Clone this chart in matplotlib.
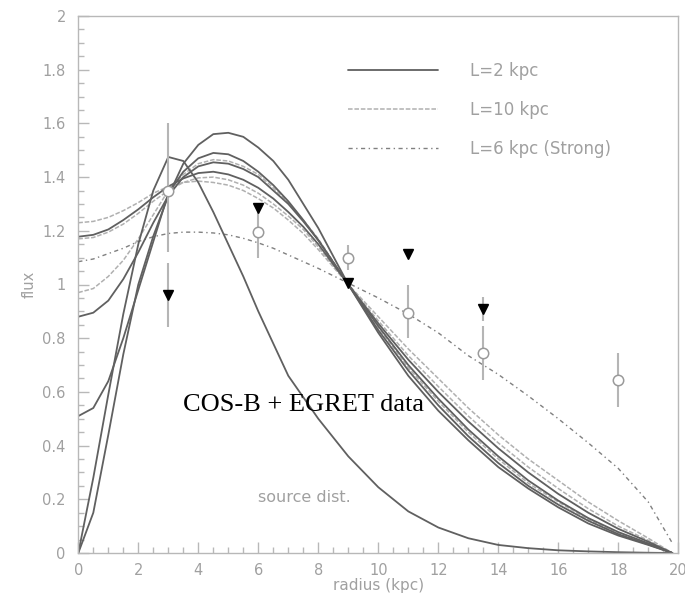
import matplotlib
matplotlib.use("Agg")
import matplotlib.pyplot as plt
from matplotlib.lines import Line2D
from matplotlib.ticker import MultipleLocator

# ---------------- data ----------------
radius = [0, 0.5, 1, 1.5, 2, 2.5, 3, 3.5, 4, 4.5, 5, 5.5, 6, 6.5, 7, 7.5, 8,
          9, 10, 11, 12, 13, 14, 15, 16, 17, 18, 19, 19.8]

source_dist = [0.0, 0.28, 0.59, 0.89, 1.15, 1.35, 1.475, 1.46, 1.38, 1.27, 1.15, 1.03, 0.90, 0.78, 0.66, 0.58, 0.50,
               0.36, 0.245, 0.155, 0.095, 0.055, 0.03, 0.018, 0.01, 0.006, 0.003, 0.001, 0.0]

# L=2 kpc (solid)
l2_a = [0.0, 0.15, 0.44, 0.74, 1.00, 1.18, 1.33, 1.45, 1.52, 1.56, 1.565, 1.55, 1.51, 1.46, 1.39, 1.30, 1.21,
        1.0, 0.82, 0.66, 0.53, 0.42, 0.32, 0.24, 0.17, 0.11, 0.065, 0.03, 0.0]
l2_b = [0.51, 0.54, 0.64, 0.80, 0.98, 1.16, 1.34, 1.42, 1.47, 1.49, 1.485, 1.46, 1.42, 1.37, 1.31, 1.24, 1.165,
        1.0, 0.83, 0.68, 0.55, 0.435, 0.335, 0.25, 0.18, 0.12, 0.07, 0.032, 0.0]
l2_c = [0.88, 0.895, 0.94, 1.02, 1.12, 1.23, 1.33, 1.40, 1.44, 1.455, 1.45, 1.43, 1.40, 1.35, 1.30, 1.235, 1.165,
        1.0, 0.845, 0.70, 0.575, 0.46, 0.36, 0.27, 0.195, 0.13, 0.078, 0.036, 0.0]
l2_d = [1.178, 1.185, 1.205, 1.24, 1.28, 1.325, 1.365, 1.395, 1.415, 1.42, 1.41, 1.39, 1.36, 1.32, 1.27, 1.215, 1.15,
        1.0, 0.855, 0.72, 0.60, 0.49, 0.39, 0.30, 0.22, 0.15, 0.09, 0.042, 0.0]

# L=10 kpc (dashed)
l10_a = [0.97, 0.985, 1.03, 1.09, 1.17, 1.26, 1.35, 1.41, 1.45, 1.465, 1.46, 1.44, 1.41, 1.36, 1.305, 1.24, 1.17,
         1.0, 0.84, 0.69, 0.565, 0.45, 0.35, 0.26, 0.19, 0.125, 0.075, 0.034, 0.0]
l10_b = [1.17, 1.175, 1.195, 1.225, 1.265, 1.31, 1.35, 1.38, 1.397, 1.40, 1.39, 1.37, 1.34, 1.30, 1.255, 1.205, 1.14,
         1.0, 0.865, 0.735, 0.62, 0.51, 0.41, 0.32, 0.24, 0.165, 0.10, 0.047, 0.0]
l10_c = [1.23, 1.235, 1.25, 1.275, 1.305, 1.34, 1.365, 1.38, 1.385, 1.38, 1.37, 1.35, 1.32, 1.285, 1.24, 1.19, 1.13,
         1.0, 0.88, 0.76, 0.65, 0.54, 0.44, 0.35, 0.27, 0.19, 0.12, 0.055, 0.0]

# L=6 kpc (Strong) (dash-dot)
l6_strong = [1.085, 1.095, 1.115, 1.135, 1.16, 1.178, 1.19, 1.195, 1.195, 1.192, 1.185, 1.172, 1.155, 1.135, 1.11, 1.085, 1.06,
             1.005, 0.95, 0.89, 0.82, 0.735, 0.665, 0.585, 0.50, 0.41, 0.315, 0.19, 0.037]

# data points
circ_r = [3, 6, 9, 11, 13.5, 18]
circ_flux = [1.35, 1.195, 1.10, 0.894, 0.745, 0.644]
circ_err_lo = [0.23, 0.095, 0.046, 0.094, 0.10, 0.10]
circ_err_hi = [0.25, 0.085, 0.047, 0.106, 0.10, 0.10]

tri_r = [3, 6, 9, 11, 13.5]
tri_flux = [0.96, 1.285, 1.005, 1.113, 0.909]
tri_err = [0.12, 0.0, 0.0, 0.0, 0.045]

legend_labels = ["L=2 kpc", "L=10 kpc", "L=6 kpc (Strong)"]
x_ticks = [0, 2, 4, 6, 8, 10, 12, 14, 16, 18, 20]
y_ticks = [0, 0.2, 0.4, 0.6, 0.8, 1, 1.2, 1.4, 1.6, 1.8, 2]
y_tick_labels = ["0", "0.2", "0.4", "0.6", "0.8", "1", "1.2", "1.4", "1.6", "1.8", "2"]

# ---------------- styling ----------------
SOLID = dict(color="#606060", lw=1.3, solid_capstyle="round", solid_joinstyle="round")
DASHED = dict(color="#b0b0b0", lw=1.1, dashes=(3.0, 1.2))
DASHDOT = dict(color="#808080", lw=1.0, dashes=(3.0, 2.5, 1.0, 2.5))
GRAY_TXT = "#a0a0a0"
FRAME = "#b8b8b8"

fig = plt.figure(figsize=(6.85, 5.97), dpi=100)
ax = fig.add_axes([78.3 / 685, 1 - 553 / 597, 600 / 685, 537 / 597])

for vals in (l10_a, l10_b, l10_c):
    ax.plot(radius, vals, **DASHED)
ax.plot(radius, l6_strong, **DASHDOT)
for vals in (l2_a, l2_b, l2_c, l2_d, source_dist):
    ax.plot(radius, vals, **SOLID)

# error bars and markers
ax.errorbar(circ_r, circ_flux, yerr=[circ_err_lo, circ_err_hi], fmt="none",
            ecolor="#b5b5b5", elinewidth=1.5, capsize=0, zorder=4)
ax.errorbar(tri_r, tri_flux, yerr=tri_err, fmt="none",
            ecolor="#b5b5b5", elinewidth=1.5, capsize=0, zorder=4)
ax.plot(circ_r, circ_flux, linestyle="none", marker="o", ms=7.5, mfc="white",
        mec="#9a9a9a", mew=1.1, zorder=5)
ax.plot(tri_r, tri_flux, linestyle="none", marker="v", ms=7.5, mfc="black",
        mec="black", zorder=6)

# texts
ax.text(3.49, 0.529, "COS-B + EGRET data", family="Liberation Serif", fontsize=19,
        color="black", va="baseline", ha="left", zorder=7)
ax.text(6.0, 0.19, "source dist.", fontsize=11.5, color=GRAY_TXT, va="baseline", ha="left")

# legend
handles = [Line2D([], [], **SOLID), Line2D([], [], **DASHED), Line2D([], [], **DASHDOT)]
leg = ax.legend(handles, legend_labels, loc="upper left", bbox_to_anchor=(0.4495, 0.9145),
                frameon=False, fontsize=12, handlelength=5.4, handletextpad=1.9,
                labelspacing=1.25, borderpad=0, borderaxespad=0)
for t in leg.get_texts():
    t.set_color(GRAY_TXT)

# axes
ax.set_xlim(0, 20)
ax.set_ylim(0, 2)
ax.set_xticks(x_ticks)
ax.set_yticks(y_ticks)
ax.set_yticklabels(y_tick_labels)
ax.xaxis.set_minor_locator(MultipleLocator(0.5))
ax.yaxis.set_minor_locator(MultipleLocator(0.05))
ax.tick_params(which="both", direction="in", color=FRAME, labelcolor=GRAY_TXT,
               labelsize=10.5, width=1.0)
ax.tick_params(which="major", length=8)
ax.tick_params(which="minor", length=4)
ax.tick_params(axis="y", pad=9)
ax.tick_params(axis="x", pad=7)
for s in ax.spines.values():
    s.set_color(FRAME)
    s.set_linewidth(1.0)

ax.set_xlabel("radius (kpc)", color=GRAY_TXT, fontsize=11, labelpad=0)
ax.set_ylabel("flux", color=GRAY_TXT, fontsize=10.5, labelpad=4)

fig.savefig("out.png", dpi=100)
